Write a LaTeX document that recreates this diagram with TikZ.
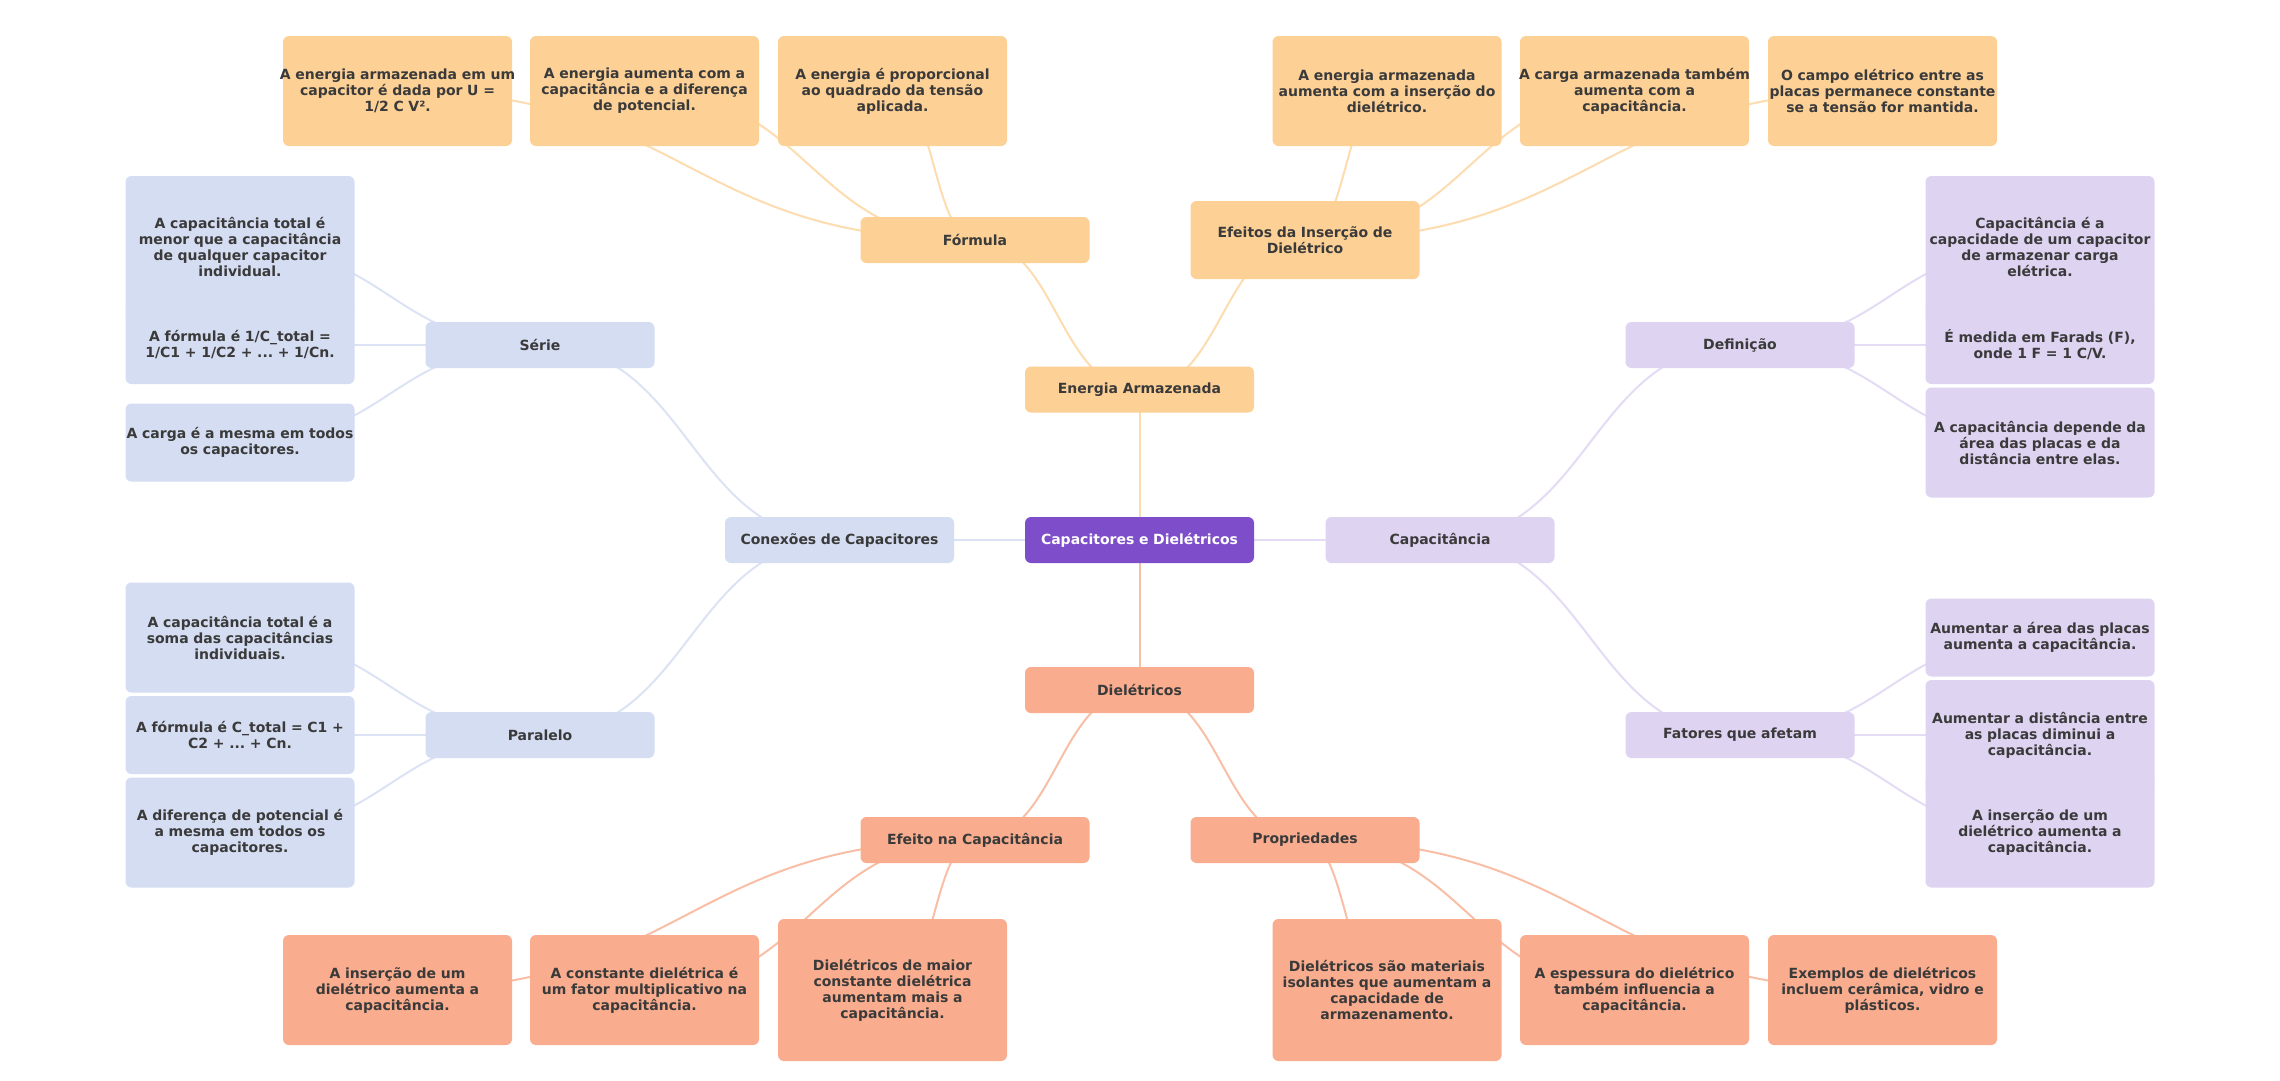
\documentclass[tikz,border=0pt]{standalone}
\usepackage{fontspec}
\setmainfont{DejaVu Sans}
\usetikzlibrary{calc}
\frenchspacing
\definecolor{txt}{HTML}{3A3A3A}
\definecolor{rootc}{HTML}{7E4ECA}
\definecolor{orf}{HTML}{FDD096}
\definecolor{orl}{HTML}{FDDCB0}
\definecolor{blf}{HTML}{D5DDF2}
\definecolor{bll}{HTML}{DCE3F5}
\definecolor{puf}{HTML}{DFD3F2}
\definecolor{pul}{HTML}{E4DBF5}
\definecolor{saf}{HTML}{F9AD8E}
\definecolor{sal}{HTML}{F9BFA6}
\pgfdeclarelayer{bg}
\pgfsetlayers{bg,main}
\tikzset{
  mbox/.style={rectangle, rounded corners=6pt, inner xsep=-10pt, inner ysep=0pt,
    text width=249pt, align=center, minimum height=46pt,
    font=\bfseries\fontsize{14}{16}\selectfont, text=txt},
  hA/.style={minimum height=46pt},
  hB/.style={minimum height=78pt},
  hC/.style={minimum height=110pt},
  hD/.style={minimum height=142pt},
  rootbox/.style={mbox, fill=rootc, text=white},
  orbox/.style={mbox, fill=orf},
  blbox/.style={mbox, fill=blf},
  pubox/.style={mbox, fill=puf},
  sabox/.style={mbox, fill=saf},
  hc/.style={to path={let \p1=(\tikztostart.center), \p2=(\tikztotarget.center) in
    (\p1) .. controls ({(\x1+\x2)/2},\y1) and ({(\x1+\x2)/2},\y2) .. (\p2)}},
  ocon/.style={draw=orl, line width=2pt, hc},
  bcon/.style={draw=bll, line width=2pt, hc},
  pcon/.style={draw=pul, line width=2pt, hc},
  scon/.style={draw=sal, line width=2pt, hc},
}
\begin{document}
\begin{tikzpicture}[x=1pt, y=-1pt]
\begin{pgfonlayer}{bg}
\fill[white] (0,0) rectangle (2280,1080);
\end{pgfonlayer}
\useasboundingbox (0,0) rectangle (2280,1080);

% central and main branches
\node[rootbox] (root) at (1139.5,540) {Capacitores e Dielétricos};
\node[orbox] (ener) at (1139.5,389.5) {Energia Armazenada};
\node[sabox] (diel) at (1139.5,690) {Dielétricos};
\node[blbox] (conex) at (839.5,540) {Conexões de Capacitores};
\node[pubox] (capac) at (1440,540) {Capacitância};

% sub branches
\node[orbox] (form) at (975,240) {Fórmula};
\node[orbox, hB] (efei) at (1305,240) {Efeitos da Inserção de\\Dielétrico};
\node[sabox] (efcap) at (975,840) {Efeito na Capacitância};
\node[sabox] (prop) at (1305,840) {Propriedades};
\node[blbox] (serie) at (540,345) {Série};
\node[blbox] (paral) at (540,735) {Paralelo};
\node[pubox] (defi) at (1740,345) {Definição};
\node[pubox] (fato) at (1740,735) {Fatores que afetam};

% top leaves
\node[orbox, hC] (t1) at (397.5,91) {A energia armazenada em um\\capacitor é dada por U =\\1/2 C V².};
\node[orbox, hC] (t2) at (644.5,91) {A energia aumenta com a\\capacitância e a diferença\\de potencial.};
\node[orbox, hC] (t3) at (892.5,91) {A energia é proporcional\\ao quadrado da tensão\\aplicada.};
\node[orbox, hC] (t4) at (1387,91) {A energia armazenada\\aumenta com a inserção do\\dielétrico.};
\node[orbox, hC] (t5) at (1634.5,91) {A carga armazenada também\\aumenta com a\\capacitância.};
\node[orbox, hC] (t6) at (1882.5,91) {O campo elétrico entre as\\placas permanece constante\\se a tensão for mantida.};

% bottom leaves
\node[sabox, hC] (b1) at (397.5,990) {A inserção de um\\dielétrico aumenta a\\capacitância.};
\node[sabox, hC] (b2) at (644.5,990) {A constante dielétrica é\\um fator multiplicativo na\\capacitância.};
\node[sabox, hD] (b3) at (892.5,990) {Dielétricos de maior\\constante dielétrica\\aumentam mais a\\capacitância.};
\node[sabox, hD] (b4) at (1387,990) {Dielétricos são materiais\\isolantes que aumentam a\\capacidade de\\armazenamento.};
\node[sabox, hC] (b5) at (1634.5,990) {A espessura do dielétrico\\também influencia a\\capacitância.};
\node[sabox, hC] (b6) at (1882.5,990) {Exemplos de dielétricos\\incluem cerâmica, vidro e\\plásticos.};

% left leaves
\node[blbox, hD] (l1) at (240,247) {A capacitância total é\\menor que a capacitância\\de qualquer capacitor\\individual.};
\node[blbox, hB] (l2) at (240,345) {A fórmula é 1/C\_total =\\1/C1 + 1/C2 + ... + 1/Cn.};
\node[blbox, hB] (l3) at (240,442.5) {A carga é a mesma em todos\\os capacitores.};
\node[blbox, hC] (l4) at (240,637.5) {A capacitância total é a\\soma das capacitâncias\\individuais.};
\node[blbox, hB] (l5) at (240,735) {A fórmula é C\_total = C1 +\\C2 + ... + Cn.};
\node[blbox, hC] (l6) at (240,832.5) {A diferença de potencial é\\a mesma em todos os\\capacitores.};

% right leaves
\node[pubox, hD] (r1) at (2040,247) {Capacitância é a\\capacidade de um capacitor\\de armazenar carga\\elétrica.};
\node[pubox, hB] (r2) at (2040,345) {É medida em Farads (F),\\onde 1 F = 1 C/V.};
\node[pubox, hC] (r3) at (2040,442.5) {A capacitância depende da\\área das placas e da\\distância entre elas.};
\node[pubox, hB] (r4) at (2040,637.5) {Aumentar a área das placas\\aumenta a capacitância.};
\node[pubox, hC] (r5) at (2040,735) {Aumentar a distância entre\\as placas diminui a\\capacitância.};
\node[pubox, hC] (r6) at (2040,832.5) {A inserção de um\\dielétrico aumenta a\\capacitância.};

\begin{pgfonlayer}{bg}
\draw[ocon] (root) to (ener);
\draw[scon] (root) to (diel);
\draw[bcon] (root) to (conex);
\draw[pcon] (root) to (capac);
\draw[ocon] (ener) to (form);
\draw[ocon] (ener) to (efei);
\draw[scon] (diel) to (efcap);
\draw[scon] (diel) to (prop);
\draw[bcon] (conex) to (serie);
\draw[bcon] (conex) to (paral);
\draw[pcon] (capac) to (defi);
\draw[pcon] (capac) to (fato);
\foreach \t in {t1,t2,t3} {\draw[ocon] (form) to (\t);}
\foreach \t in {t4,t5,t6} {\draw[ocon] (efei) to (\t);}
\foreach \t in {b1,b2,b3} {\draw[scon] (efcap) to (\t);}
\foreach \t in {b4,b5,b6} {\draw[scon] (prop) to (\t);}
\foreach \t in {l1,l2,l3} {\draw[bcon] (serie) to (\t);}
\foreach \t in {l4,l5,l6} {\draw[bcon] (paral) to (\t);}
\foreach \t in {r1,r2,r3} {\draw[pcon] (defi) to (\t);}
\foreach \t in {r4,r5,r6} {\draw[pcon] (fato) to (\t);}
\end{pgfonlayer}
\end{tikzpicture}
\end{document}
